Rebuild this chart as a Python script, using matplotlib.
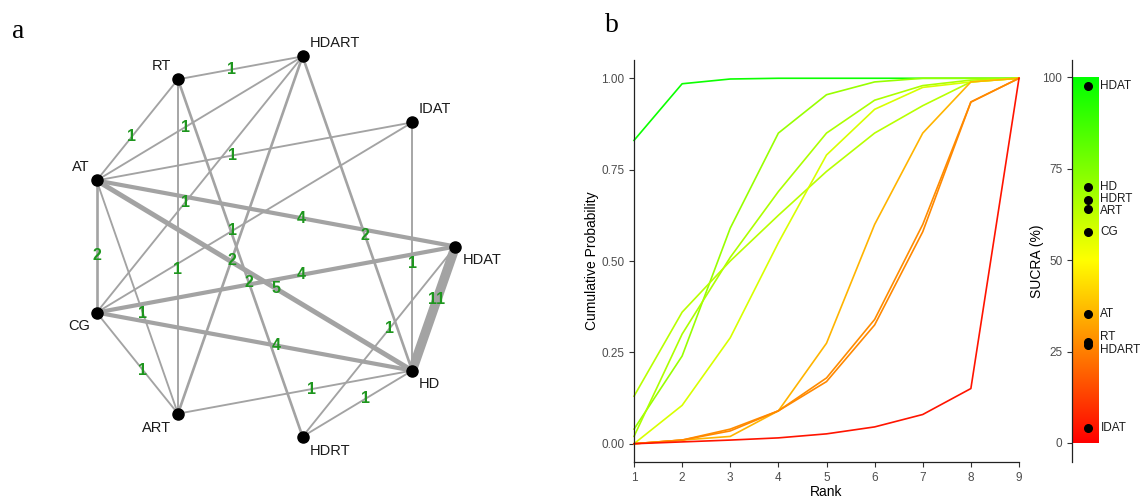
import numpy as np
import matplotlib
matplotlib.use("Agg")
import matplotlib.pyplot as plt
from matplotlib.colors import LinearSegmentedColormap

plt.rcParams['font.family'] = ['Liberation Sans', 'DejaVu Sans']

# ---- data -------------------------------------------------------------
# network nodes, going round the circle counter-clockwise from the right
nodes = ["HDAT", "IDAT", "HDART", "RT", "AT", "CG", "ART", "HDRT", "HD"]
# direct comparisons: number of studies between edge_a[i] and edge_b[i]
edge_a = ["RT", "AT", "AT", "AT", "CG", "CG", "CG", "ART", "ART", "HDRT",
          "HDAT", "HDAT", "HD", "HD", "HD", "HD", "HDAT", "HDAT",
          "ART", "ART", "HD", "HD"]
edge_b = ["HDART", "RT", "HDART", "IDAT", "HDART", "IDAT", "AT", "RT", "HDART", "RT",
          "AT", "CG", "AT", "CG", "HDART", "IDAT", "HD", "HDRT",
          "AT", "CG", "ART", "HDRT"]
edge_n = [1, 1, 1, 1, 1, 1, 2, 1, 2, 2,
          4, 4, 5, 4, 2, 1, 11, 1,
          1, 1, 1, 1]

# cumulative rank probabilities (rank 1..9)
ranks = [1, 2, 3, 4, 5, 6, 7, 8, 9]
treat = ["HDAT", "HD", "HDRT", "ART", "CG", "AT", "RT", "HDART", "IDAT"]
cum_prob = {
    "HDAT":  [0.83, 0.985, 0.998, 1.0, 1.0, 1.0, 1.0, 1.0, 1.0],
    "HD":    [0.04, 0.24, 0.59, 0.85, 0.955, 0.99, 1.0, 1.0, 1.0],
    "HDRT":  [0.02, 0.30, 0.51, 0.69, 0.85, 0.94, 0.98, 0.995, 1.0],
    "ART":   [0.13, 0.36, 0.50, 0.625, 0.745, 0.85, 0.925, 0.99, 1.0],
    "CG":    [0.0, 0.105, 0.29, 0.55, 0.79, 0.915, 0.975, 0.99, 1.0],
    "AT":    [0.0, 0.01, 0.02, 0.09, 0.275, 0.60, 0.85, 0.99, 1.0],
    "RT":    [0.0, 0.01, 0.04, 0.09, 0.18, 0.34, 0.60, 0.935, 1.0],
    "HDART": [0.0, 0.01, 0.035, 0.09, 0.17, 0.325, 0.58, 0.935, 1.0],
    "IDAT":  [0.0, 0.005, 0.01, 0.016, 0.027, 0.046, 0.08, 0.151, 1.0],
}
# SUCRA (%)
sucra = [97.6, 70.1, 66.3, 63.9, 57.6, 35.3, 27.5, 26.9, 4.1]

# ---- figure -----------------------------------------------------------
W, H = 1143, 499
fig = plt.figure(figsize=(W / 100, H / 100), dpi=100)
cmap = LinearSegmentedColormap.from_list("ryg", ["#FF0000", "#FFFF00", "#00FF00"])

# panel a: network plot on a circle
ax_a = fig.add_axes([0, 0, 520 / W, 1])
ang = np.deg2rad(40 * np.arange(len(nodes)))
pos = {n: (np.cos(t), np.sin(t)) for n, t in zip(nodes, ang)}

order = np.argsort(edge_n)
for i in order:
    (x1, y1), (x2, y2) = pos[edge_a[i]], pos[edge_b[i]]
    ax_a.plot([x1, x2], [y1, y2], color="#A3A3A3", lw=0.8 + 0.55 * edge_n[i],
              solid_capstyle="butt", zorder=1)
for i in range(len(edge_n)):
    (x1, y1), (x2, y2) = pos[edge_a[i]], pos[edge_b[i]]
    t = 0.43
    ax_a.text(x1 + t * (x2 - x1), y1 + t * (y2 - y1), str(edge_n[i]),
              color="#1E961E", fontsize=11.5, fontweight="bold",
              ha="center", va="center", zorder=3)

for n in nodes:
    x, y = pos[n]
    ax_a.plot(x, y, "o", color="black", ms=8, zorder=4)
    dx = 5 if x >= 0 else -5
    dy = 9.5 if y > 0 else -10
    ax_a.annotate(n, (x, y), xytext=(dx, dy), textcoords="offset points",
                  ha="left" if x >= 0 else "right", va="center",
                  fontsize=10.5, color="#1a1a1a")

ax_a.set_xlim(-1.462, 1.349)
ax_a.set_ylim(-1.308, 1.277)
ax_a.axis("off")

# panel b: cumulative ranking curves
ax_b = fig.add_axes([634 / W, 37 / H, 385 / W, 402 / H])
for k, tr in enumerate(treat):
    ax_b.plot(ranks, cum_prob[tr], color=cmap(sucra[k] / 100), lw=1.2,
              clip_on=False)
ax_b.set_xlim(1, 9)
ax_b.set_ylim(-0.05, 1.05)
ax_b.set_xticks(ranks)
ax_b.set_yticks([0, 0.25, 0.5, 0.75, 1.0])
ax_b.set_yticklabels(["0.00", "0.25", "0.50", "0.75", "1.00"])
for s in ["top", "right"]:
    ax_b.spines[s].set_visible(False)
for s in ["left", "bottom"]:
    ax_b.spines[s].set_color("#222222")
    ax_b.spines[s].set_linewidth(0.9)
ax_b.tick_params(length=3.5, width=0.8, color="#333333", labelcolor="#4D4D4D",
                 labelsize=8.5)
ax_b.set_xlabel("Rank", fontsize=10, labelpad=1)
ax_b.set_ylabel("Cumulative Probability", fontsize=10)
ax_b.yaxis.set_label_coords(-0.09, 0.5)

# SUCRA bar
ax_s = fig.add_axes([1072 / W, 37 / H, 71 / W, 402 / H])
ax_s.imshow(np.linspace(0, 1, 256).reshape(-1, 1), extent=[0.02, 0.38, 0, 100],
            origin="lower", cmap=cmap, aspect="auto", zorder=1)
ax_s.scatter([0.225] * len(sucra), sucra, s=30, color="black", zorder=3)

# push overlapping labels apart a little
lab_y = np.array(sucra, dtype=float)
idx = np.argsort(lab_y)
for _ in range(50):
    for j in range(len(idx) - 1):
        lo, hi = idx[j], idx[j + 1]
        gap = lab_y[hi] - lab_y[lo]
        if gap < 3.3:
            d = (3.3 - gap) / 2
            lab_y[hi] += d
            lab_y[lo] -= d
for k, tr in enumerate(treat):
    ax_s.text(0.40, lab_y[k], tr, fontsize=8.5, ha="left", va="center",
              color="#1a1a1a")

ax_s.set_xlim(0, 1)
ax_s.set_ylim(-5.2, 104.7)
ax_s.set_xticks([])
ax_s.set_yticks([0, 25, 50, 75, 100])
for s in ["top", "right", "bottom"]:
    ax_s.spines[s].set_visible(False)
ax_s.spines["left"].set_color("#222222")
ax_s.spines["left"].set_linewidth(0.9)
ax_s.tick_params(length=3.5, width=0.8, color="#333333", labelcolor="#4D4D4D",
                 labelsize=8.5)
ax_s.set_ylabel("SUCRA (%)", fontsize=10)
ax_s.yaxis.set_label_coords(-0.40, 0.5)

fig.text(18 / W, 1 - 32 / H, "a", family="Liberation Serif", fontsize=20,
         ha="center", va="center")
fig.text(612 / W, 1 - 25 / H, "b", family="Liberation Serif", fontsize=20,
         ha="center", va="center")

fig.savefig("out.png", dpi=100)
